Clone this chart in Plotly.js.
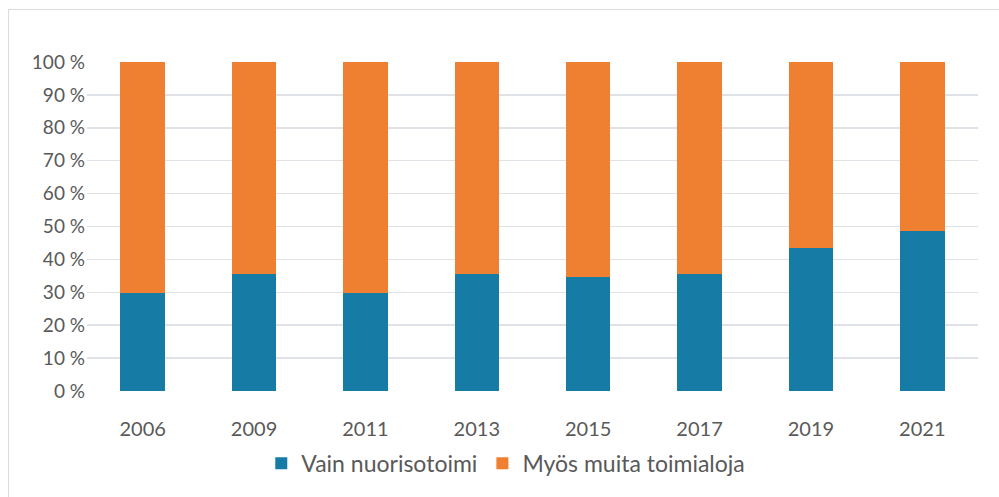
<!DOCTYPE html>
<html>
<head>
<meta charset="utf-8">
<script src="https://cdn.plot.ly/plotly-3.0.1.min.js"></script>
<style>
  html, body { margin: 0; padding: 0; background: #ffffff; }
  #wrap { position: relative; width: 999px; height: 497px; overflow: hidden; }
  #chart { position: absolute; left: 0; top: 0; width: 999px; height: 497px; }
  #frame { position: absolute; left: 8px; top: 9px; width: 1200px; height: 800px;
           border-left: 1.5px solid #d9dde2; border-top: 1.5px solid #d9dde2; pointer-events: none; }
</style>
</head>
<body>
<div id="wrap">
  <div id="chart"></div>
  <div id="frame"></div>
</div>
<script>
const years = ['2006', '2009', '2011', '2013', '2015', '2017', '2019', '2021'];
const vainNuorisotoimi = [29.7, 35.6, 29.7, 35.6, 34.8, 35.6, 43.6, 48.6];
const myosMuitaToimialoja = [70.3, 64.4, 70.3, 64.4, 65.2, 64.4, 56.4, 51.4];
const seriesNames = ['Vain nuorisotoimi', 'Myös muita toimialoja'];
const yTicks = [0, 10, 20, 30, 40, 50, 60, 70, 80, 90, 100];

const font = "Lato, 'Open Sans', sans-serif";
const textColor = '#595959';

const traces = [
  { type: 'bar', name: seriesNames[0], x: years, y: vainNuorisotoimi,
    marker: { color: '#167ca5' }, hoverinfo: 'skip' },
  { type: 'bar', name: seriesNames[1], x: years, y: myosMuitaToimialoja,
    marker: { color: '#ef7f31' }, hoverinfo: 'skip' }
];

const layout = {
  width: 999, height: 497,
  margin: { l: 87, r: 21, t: 62, b: 106 },
  paper_bgcolor: 'rgba(0,0,0,0)', plot_bgcolor: 'rgba(0,0,0,0)',
  barmode: 'stack',
  bargap: 0.6,
  font: { family: font, size: 19, color: textColor },
  xaxis: { type: 'category', showgrid: false, zeroline: false, showline: false,
           ticks: '', ticklabelstandoff: 24, tickfont: { size: 20, color: textColor } },
  yaxis: { range: [0, 100], tickvals: yTicks, ticktext: yTicks.map(v => v + ' %'),
           showgrid: true, gridcolor: '#dfe3e8', gridwidth: 1.5, zeroline: false, showline: false,
           ticks: '', ticklabelstandoff: 1, tickfont: { size: 19, color: textColor } },
  showlegend: true,
  legend: { orientation: 'h', x: 0.47, xanchor: 'center', y: -0.22, yanchor: 'middle',
            font: { size: 23, color: textColor }, itemwidth: 30, traceorder: 'normal' }
};

Plotly.newPlot('chart', traces, layout, { staticPlot: true, displayModeBar: false });
</script>
</body>
</html>
